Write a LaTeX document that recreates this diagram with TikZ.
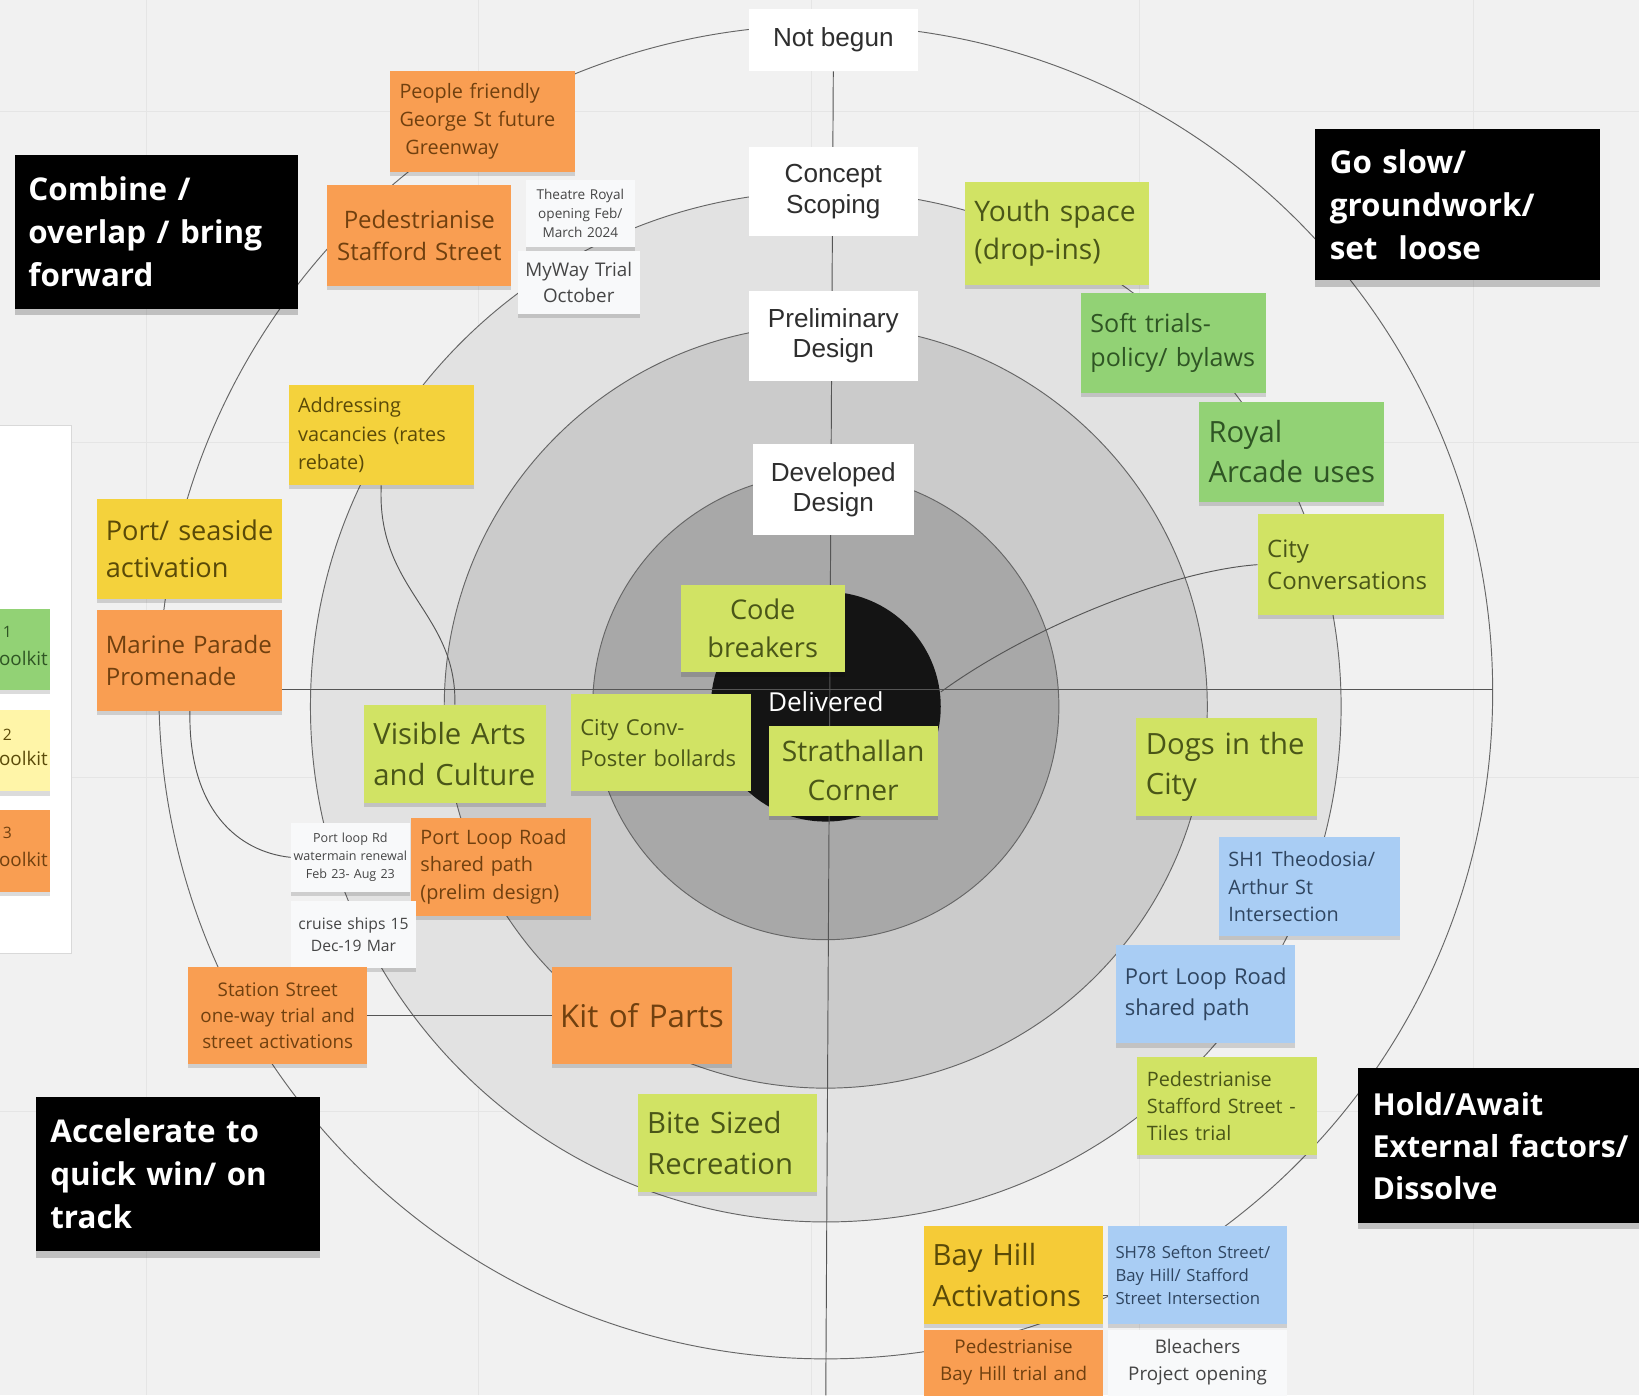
\documentclass[tikz,border=0pt]{standalone}
\usepackage{fontspec}
\setmainfont{Open Sans}
\newfontfamily\arialf{Liberation Sans}
\usetikzlibrary{shadows}
\hyphenpenalty=10000
\exhyphenpenalty=10000
\definecolor{bgc}{HTML}{F1F1F1}
\definecolor{gridc}{HTML}{E5E5E5}
\definecolor{ringA}{HTML}{E2E2E2}
\definecolor{ringB}{HTML}{CBCBCB}
\definecolor{ringC}{HTML}{A8A8A8}
\definecolor{ringD}{HTML}{141414}
\definecolor{linec}{HTML}{555555}
\definecolor{cLime}{HTML}{D1E364}
\definecolor{cLimeT}{HTML}{4A5618}
\definecolor{cGreen}{HTML}{92D275}
\definecolor{cGreenT}{HTML}{2F5524}
\definecolor{cOrange}{HTML}{F99E52}
\definecolor{cOrangeT}{HTML}{70400F}
\definecolor{cYellow}{HTML}{F4D23C}
\definecolor{cYellowT}{HTML}{5A4A08}
\definecolor{cLYellow}{HTML}{FFF5A8}
\definecolor{cBlue}{HTML}{A9CDF4}
\definecolor{cBlueT}{HTML}{2F4560}
\definecolor{cPaper}{HTML}{F8F9FA}
\definecolor{cPaperT}{HTML}{454545}
\definecolor{stageT}{HTML}{2E2E2E}
\pgfdeclarelayer{bgl}
\pgfdeclarelayer{ringl}
\pgfdeclarelayer{linel}
\pgfsetlayers{bgl,ringl,linel,main}
\newcommand\fsz[2]{\fontsize{#1}{#2}\selectfont}
\begin{document}
\begin{tikzpicture}[x=1pt,y=-1pt,
  sticky/.style n args={3}{rectangle, anchor=north west, inner sep=0pt,
     minimum width=#1pt, minimum height=#2pt, text width=#3pt},
  nshadow/.style={drop shadow={shadow xshift=0pt,shadow yshift=-4pt,opacity=0.14,fill=black}},
  nlime/.style={fill=cLime, text=cLimeT, nshadow},
  ngreen/.style={fill=cGreen, text=cGreenT, nshadow},
  norange/.style={fill=cOrange, text=cOrangeT, nshadow},
  nyellow/.style={fill=cYellow, text=cYellowT, nshadow},
  nblue/.style={fill=cBlue, text=cBlueT, nshadow},
  npaper/.style={fill=cPaper, text=cPaperT, nshadow},
  stage/.style={rectangle, anchor=north west, inner sep=0pt, fill=white, text=stageT,
     align=center, font=\arialf\fsz{25}{29}},
  blackbox/.style={rectangle, anchor=north west, inner sep=0pt, fill=black, text=white,
     align=left, font=\bfseries\fsz{30}{41},
     drop shadow={shadow xshift=0pt,shadow yshift=-6pt,opacity=0.2,fill=black}},
  conn/.style={draw=linec, line width=0.9pt},
  ringline/.style={draw=linec!90, line width=0.9pt},
]
\useasboundingbox (0,0) rectangle (1568,1335);

% ---------- stage labels ----------
\node[stage, minimum width=162pt, minimum height=60pt] (notbegun) at (716,8) {Not begun};
\node[stage, minimum width=162pt, minimum height=86pt] (concept) at (716,140) {Concept\\Scoping};
\node[stage, minimum width=162pt, minimum height=86pt] (prelim) at (716,278) {Preliminary\\Design};
\node[stage, minimum width=154pt, minimum height=87pt] (developed) at (720,425) {Developed\\Design};
\node[text=white, font=\fsz{25}{30}, inner sep=0pt] (delivered) at (790,671) {Delivered};

% ---------- black category boxes ----------
\node[blackbox, minimum width=271pt, minimum height=147pt, text width=245pt] (combine) at (14,148)
  {Combine~/\\overlap~/~bring\\forward};
\node[blackbox, minimum width=272pt, minimum height=145pt, text width=244pt] (goslow) at (1258,123)
  {Go~slow/\\groundwork/\\set\ \ loose};
\node[blackbox, minimum width=272pt, minimum height=148pt, text width=244pt] (accel) at (34,1049)
  {Accelerate~to\\quick~win/~on\\track};
\node[blackbox, minimum width=272pt, minimum height=148pt, text width=244pt, font=\bfseries\fsz{29}{40}] (hold) at (1299,1022)
  {Hold/Await\\External~factors/\\Dissolve};

% ---------- legend panel (cut at left edge) ----------
\node[rectangle, anchor=north west, inner sep=0pt, minimum width=80pt, minimum height=505pt,
  fill=white, draw=black!15, line width=0.8pt] (legpanel) at (-12,407) {};
\node[sticky={90}{78}{90}, ngreen] (leg1) at (-42,582) {};
\node[sticky={90}{78}{90}, fill=cLYellow, nshadow] (leg2) at (-42,679) {};
\node[sticky={90}{78}{90}, norange] (leg3) at (-42,775) {};
\node[font=\fsz{15}{18}, text=cGreenT, inner sep=0pt] (leg1a) at (7,605) {1};
\node[font=\fsz{18}{22}, text=cGreenT, inner sep=0pt, anchor=east] (leg1b) at (46,630) {oolkit};
\node[font=\fsz{15}{18}, text=cYellowT, inner sep=0pt] (leg2a) at (7,703) {2};
\node[font=\fsz{18}{22}, text=cYellowT, inner sep=0pt, anchor=east] (leg2b) at (46,726) {oolkit};
\node[font=\fsz{15}{18}, text=cOrangeT, inner sep=0pt] (leg3a) at (7,797) {3};
\node[font=\fsz{18}{22}, text=cOrangeT, inner sep=0pt, anchor=east] (leg3b) at (46,822) {oolkit};

% ---------- sticky notes ----------
\node[sticky={177}{96}{159}, norange, align=left, font=\fsz{19}{27}] (people) at (373,68)
  {People~friendly\\George~St~future\\\hspace{0.3em}Greenway};
\node[sticky={176}{96}{164}, norange, align=center, font=\fsz{23}{31}] (pedstafford) at (313,177)
  {Pedestrianise\\Stafford Street};
\node[sticky={104}{64}{102}, npaper, align=center, font=\fsz{13}{18}] (theatre) at (503,172)
  {Theatre Royal\\opening Feb/\\March 2024};
\node[sticky={117}{60}{113}, npaper, align=center, font=\fsz{18}{25}] (myway) at (495,240)
  {MyWay Trial\\October};
\node[sticky={177}{96}{159}, nyellow, align=left, font=\fsz{19}{27}] (addr) at (276,368)
  {Addressing\\vacancies~(rates\\rebate)};
\node[sticky={177}{96}{161}, nyellow, align=left, font=\fsz{26}{36}] (port) at (93,477)
  {Port/~seaside\\activation};
\node[sticky={177}{97}{161}, norange, align=left, font=\fsz{23}{31}] (marine) at (93,583)
  {Marine~Parade\\Promenade};
\node[sticky={176}{98}{158}, nlime, align=left, font=\fsz{27}{36}] (youth) at (923,174)
  {Youth~space\\(drop-ins)};
\node[sticky={177}{96}{159}, ngreen, align=left, font=\fsz{24}{33}] (soft) at (1034,280)
  {Soft~trials-\\policy/~bylaws};
\node[sticky={177}{96}{159}, ngreen, align=left, font=\fsz{28}{38}] (royal) at (1147,384)
  {Royal\\Arcade~uses};
\node[sticky={178}{96}{160}, nlime, align=left, font=\fsz{23}{31}] (cityconv) at (1203,492)
  {City\\Conversations};
\node[sticky={157}{84}{150}, nlime, align=center, font=\fsz{26}{36}] (code) at (651,559)
  {Code\\breakers};
\node[sticky={172}{93}{154}, nlime, align=left, font=\fsz{21}{30}] (poster) at (546,664)
  {City~Conv-\\Poster~bollards};
\node[sticky={162}{86}{156}, nlime, align=center, font=\fsz{27}{37}] (strath) at (735,694)
  {Strathallan\\Corner};
\node[sticky={174}{94}{156}, nlime, align=left, font=\fsz{28}{39}] (visible) at (348,674)
  {Visible~Arts\\and~Culture};
\node[sticky={173}{93}{155}, nlime, align=left, font=\fsz{28}{39}] (dogs) at (1087,687)
  {Dogs~in~the\\City};
\node[sticky={114}{66}{112}, npaper, align=center, font=\fsz{12}{17}] (portloopnote) at (278,787)
  {Port loop Rd\\watermain renewal\\Feb 23- Aug 23};
\node[sticky={172}{94}{154}, norange, align=left, font=\fsz{19}{26}] (plrorange) at (393,782)
  {Port~Loop~Road\\shared~path\\(prelim~design)};
\node[sticky={120}{64}{116}, npaper, align=center, font=\fsz{15}{21}] (cruise) at (278,862)
  {cruise ships 15\\Dec-19 Mar};
\node[sticky={171}{93}{165}, norange, align=center, font=\fsz{18}{25}] (station) at (180,925)
  {Station Street\\one-way trial and\\street activations};
\node[sticky={172}{93}{166}, norange, align=center, font=\fsz{30}{40}] (kit) at (528,925)
  {Kit of Parts};
\node[sticky={171}{94}{153}, nlime, align=left, font=\fsz{28}{39}] (bite) at (610,1046)
  {Bite~Sized\\Recreation};
\node[sticky={173}{94}{155}, nblue, align=left, font=\fsz{19}{26}] (sh1) at (1166,801)
  {SH1~Theodosia/\\Arthur~St\\Intersection};
\node[sticky={172}{94}{154}, nblue, align=left, font=\fsz{21}{30}] (plrblue) at (1067,904)
  {Port~Loop~Road\\shared~path};
\node[sticky={172}{94}{154}, nlime, align=left, font=\fsz{19}{26}] (tiles) at (1088,1011)
  {Pedestrianise\\Stafford~Street~-\\Tiles~trial};
\node[sticky={171}{93}{155}, nyellow, fill=cYellow!92!orange, align=left, font=\fsz{28}{39}] (bayhill) at (884,1173)
  {Bay~Hill\\Activations};
\node[sticky={171}{93}{157}, nblue, align=left, font=\fsz{16}{22}] (sh78) at (1060,1173)
  {SH78~Sefton~Street/\\Bay~Hill/~Stafford\\Street~Intersection};
\node[sticky={171}{84}{165}, norange, align=center, font=\fsz{18}{26}] (pedbay) at (884,1272)
  {Pedestrianise\\Bay Hill trial and\\\mbox{}};
\node[sticky={171}{84}{165}, npaper, align=center, font=\fsz{18}{26}] (bleach) at (1060,1272)
  {Bleachers\\Project opening\\\mbox{}};

% ---------- background, grid ----------
\begin{pgfonlayer}{bgl}
  \fill[bgc] (0,0) rectangle (1568,1335);
  \foreach \gx in {140,458,776,1090,1410} \draw[gridc, line width=1pt] (\gx,0) -- (\gx,1335);
  \foreach \gy in {107,423,744,1063} \draw[gridc, line width=1pt] (0,\gy) -- (1568,\gy);
\end{pgfonlayer}

% ---------- target rings ----------
\begin{pgfonlayer}{ringl}
  \coordinate (ctr) at (790,676);
  \coordinate (octr) at (790,662);
  \fill[ringA] (ctr) circle[radius=493pt];
  \draw[ringline] (ctr) circle[radius=493pt];
  \fill[ringB] (ctr) circle[radius=365pt];
  \draw[ringline] (ctr) circle[radius=365pt];
  \fill[ringC] (ctr) circle[radius=223pt];
  \draw[ringline] (ctr) circle[radius=223pt];
  \fill[ringD] (ctr) circle[radius=110pt];
  \draw[ringline] (octr) circle[radius=638pt];
\end{pgfonlayer}

% ---------- connectors ----------
\begin{pgfonlayer}{linel}
  \coordinate (vbot) at (790,1335);
  \coordinate (hleft) at (270,660);
  \coordinate (hright) at (1428,660);
  \coordinate (dcen) at (900,662);
  \coordinate (bhdash) at (1057,1239);
  \draw[conn] (notbegun.south) -- (vbot);
  \draw[conn] (hleft) -- (hright);
  \draw[conn] (cityconv.west) .. controls (1120,546) and (985,600) .. (dcen);
  \draw[conn] (addr.south) .. controls (360,565) and (437,585) .. (visible.north);
  \draw[conn] (marine.south) .. controls (180,775) and (228,815) .. (portloopnote.west);
  \draw[conn] (station.east) -- (kit.west);
  \draw[conn] (bayhill.east |- bhdash) -- (sh78.west |- bhdash);
\end{pgfonlayer}
\end{tikzpicture}
\end{document}
